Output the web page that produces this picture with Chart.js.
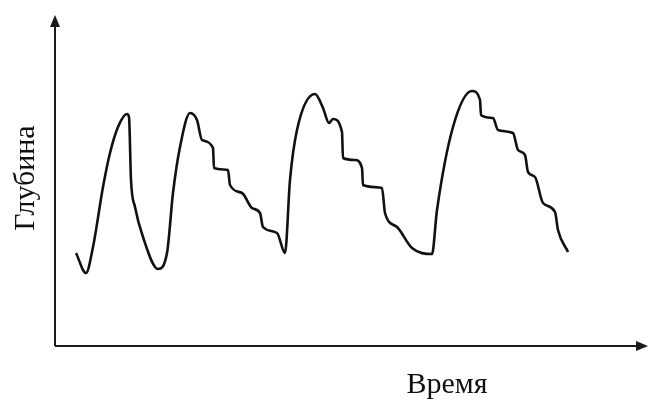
<!DOCTYPE html>
<html>
<head>
<meta charset="utf-8">
<script src="https://cdn.jsdelivr.net/npm/chart.js@4/dist/chart.umd.min.js"></script>
<style>
  html, body { margin: 0; padding: 0; background: #ffffff; }
  #wrap { width: 649px; height: 403px; position: relative; }
</style>
</head>
<body>
<div id="wrap"><canvas id="c"></canvas></div>
<script>
// Data: time (arbitrary units) and depth (arbitrary units, up = deeper value)
const timeValues = [21, 31, 38, 48, 55, 63, 72, 74, 76, 80, 88, 103,
  112, 118, 125, 135, 142, 147, 158, 159, 173, 175, 187, 197, 205, 208, 222, 230,
  235, 242, 260, 268, 274, 278, 287, 288, 300, 307, 308, 327, 330, 342, 357, 377,
  382, 398, 417, 425, 426, 438, 443, 458, 463, 470, 473, 480, 488, 500, 503, 513];
const depthValues = [93, 73, 99, 159, 193, 219, 232, 229, 166, 139, 109, 77,
  93, 153, 199, 233, 226, 206, 198, 178, 176, 161, 153, 138, 133, 119, 113, 93,
  166, 216, 252, 238, 223, 227, 214, 188, 186, 178, 161, 158, 133, 119, 98, 92,
  136, 219, 255, 246, 231, 228, 216, 213, 196, 191, 174, 169, 143, 134, 116, 94];
const xAxisTitle = 'Время';
const yAxisTitle = 'Глубина';
const xRange = [0, 593];
const yRange = [0, 331];

const points = timeValues.map((t, i) => ({ x: t, y: depthValues[i] }));

const axesPlugin = {
  id: 'arrowAxes',
  afterDraw(chart) {
    const ctx = chart.ctx;
    const xs = chart.scales.x, ys = chart.scales.y;
    const x0 = xs.getPixelForValue(xRange[0]);
    const x1 = xs.getPixelForValue(xRange[1]);
    const y0 = ys.getPixelForValue(yRange[0]);
    const y1 = ys.getPixelForValue(yRange[1]);
    ctx.save();
    ctx.strokeStyle = '#1a1a1a';
    ctx.fillStyle = '#1a1a1a';
    ctx.lineWidth = 2;
    ctx.beginPath();
    ctx.moveTo(x0, y0);
    ctx.lineTo(x0, y1 + 8);
    ctx.moveTo(x0, y0);
    ctx.lineTo(x1 - 8, y0);
    ctx.stroke();
    // arrow heads
    ctx.beginPath();
    ctx.moveTo(x0, y1);
    ctx.lineTo(x0 - 5, y1 + 12);
    ctx.lineTo(x0 + 5, y1 + 12);
    ctx.closePath();
    ctx.fill();
    ctx.beginPath();
    ctx.moveTo(x1, y0);
    ctx.lineTo(x1 - 12, y0 - 5);
    ctx.lineTo(x1 - 12, y0 + 5);
    ctx.closePath();
    ctx.fill();
    // titles
    ctx.font = '30px "Liberation Serif", "Times New Roman", serif';
    ctx.fillStyle = '#111111';
    ctx.textAlign = 'center';
    ctx.textBaseline = 'alphabetic';
    ctx.fillText(xAxisTitle, 447, 393);
    ctx.translate(34, 178);
    ctx.rotate(-Math.PI / 2);
    ctx.fillText(yAxisTitle, 0, 0);
    ctx.restore();
  }
};

new Chart(document.getElementById('c'), {
  type: 'line',
  data: {
    datasets: [{
      data: points,
      borderColor: '#111111',
      borderWidth: 2.6,
      pointRadius: 0,
      fill: false,
      cubicInterpolationMode: 'monotone'
    }]
  },
  options: {
    responsive: true,
    maintainAspectRatio: false,
    animation: false,
    layout: { padding: { left: 55, top: 15, right: 1, bottom: 57 } },
    plugins: { legend: { display: false }, tooltip: { enabled: false } },
    scales: {
      x: { type: 'linear', min: xRange[0], max: xRange[1], display: false },
      y: { type: 'linear', min: yRange[0], max: yRange[1], display: false }
    }
  },
  plugins: [axesPlugin]
});
</script>
</body>
</html>
